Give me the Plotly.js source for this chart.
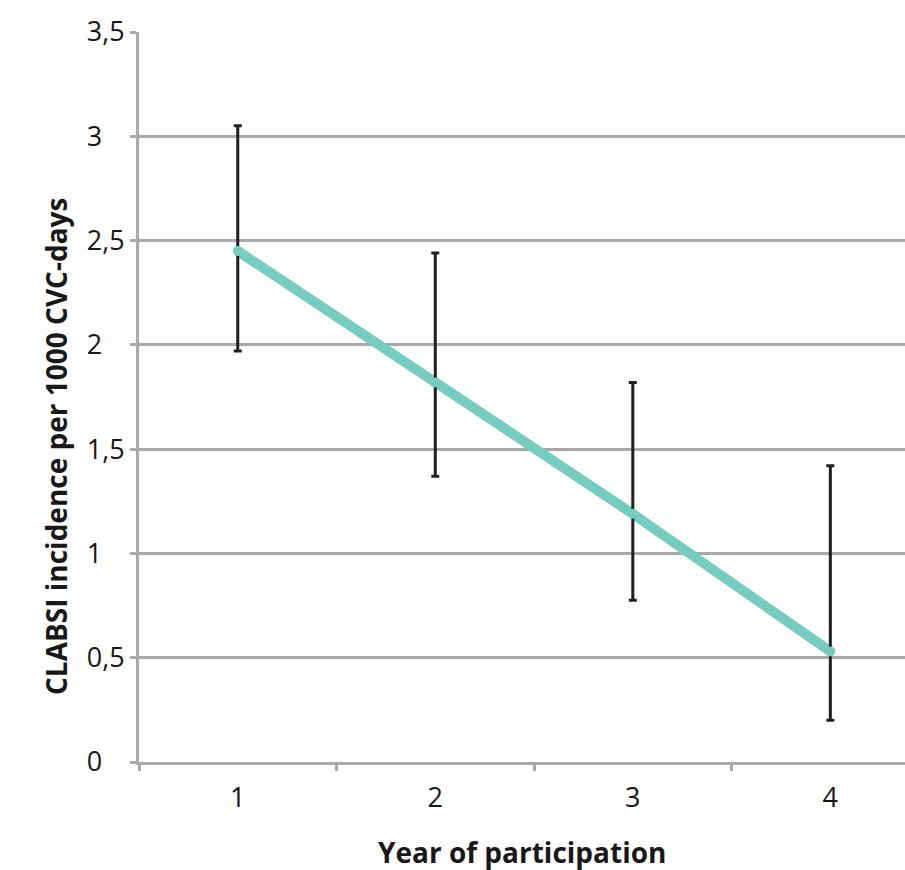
<!DOCTYPE html>
<html>
<head>
<meta charset="utf-8">
<script src="https://cdn.plot.ly/plotly-3.0.1.min.js"></script>
<style>html,body{margin:0;padding:0;background:#fff;}#chart{width:905px;height:870px;}</style>
</head>
<body>
<div id="chart"></div>
<script>
const years = [1, 2, 3, 4];
const yearLabels = ['1', '2', '3', '4'];
const incidence = [2.45, 1.82, 1.19, 0.53];
const upperCI = [3.05, 2.44, 1.82, 1.42];
const lowerCI = [1.97, 1.37, 0.775, 0.20];
const yTickVals = [0, 0.5, 1, 1.5, 2, 2.5, 3, 3.5];
const yTickText = ['0\u2008\u2007', '0,5', '1\u2008\u2007', '1,5', '2\u2008\u2007', '2,5', '3\u2008\u2007', '3,5'];
const yTitle = 'CLABSI incidence per 1000 CVC-days';
const xTitle = 'Year of participation';

const errPlus = incidence.map((v, i) => upperCI[i] - v);
const errMinus = incidence.map((v, i) => v - lowerCI[i]);

const grid = '#a7a9ac';
const teal = '#76cdbf';
const ink = '#1a1718';

const traces = [
  {
    x: years, y: incidence, type: 'scatter', mode: 'lines',
    line: {color: teal, width: 10},
    hoverinfo: 'skip', showlegend: false
  },
  {
    x: years, y: incidence, type: 'scatter', mode: 'markers',
    marker: {color: teal, size: 10},
    error_y: {type: 'data', symmetric: false, array: errPlus, arrayminus: errMinus,
              color: '#231f20', thickness: 3, width: 4},
    hoverinfo: 'skip', showlegend: false
  }
];

const tickFont = {size: 27, weight: 400, family: 'Open Sans, sans-serif', color: ink};
const titleFont = {size: 28, weight: 700, family: 'Open Sans, sans-serif', color: ink};

const layout = {
  width: 905, height: 870,
  margin: {l: 139, r: 0, t: 32, b: 108},
  paper_bgcolor: '#fff', plot_bgcolor: '#fff',
  font: {family: 'Open Sans, sans-serif', color: ink},
  separators: ',.',
  showlegend: false,
  xaxis: {
    range: [0.5, 4.378],
    tickvals: years, ticktext: yearLabels,
    ticks: '', showgrid: false, zeroline: false,
    showline: true, linecolor: grid, linewidth: 3,
    tickfont: tickFont,
    ticklabelstandoff: 10,
    minor: {tick0: 0.5, dtick: 1, ticks: 'outside', ticklen: 6, tickcolor: grid, tickwidth: 3, showgrid: false},
    fixedrange: true
  },
  yaxis: {
    range: [0, 3.5],
    tickvals: yTickVals, ticktext: yTickText,
    ticks: 'outside', ticklen: 6, tickcolor: grid, tickwidth: 3,
    showgrid: true, gridcolor: grid, gridwidth: 3,
    zeroline: false,
    showline: true, linecolor: grid, linewidth: 3,
    tickfont: tickFont,
    ticklabelstandoff: 0,
    fixedrange: true
  },
  annotations: [
    {text: yTitle, xref: 'paper', yref: 'paper', x: 0, xshift: -83, y: 0.5, yshift: -50,
     textangle: -90, showarrow: false, xanchor: 'center', yanchor: 'middle',
     font: titleFont},
    {text: xTitle, xref: 'paper', yref: 'paper', x: 0.5, y: 0, yshift: -90,
     showarrow: false, xanchor: 'center', yanchor: 'middle',
     font: titleFont}
  ]
};

Plotly.newPlot('chart', traces, layout, {displayModeBar: false, staticPlot: true});
</script>
</body>
</html>
